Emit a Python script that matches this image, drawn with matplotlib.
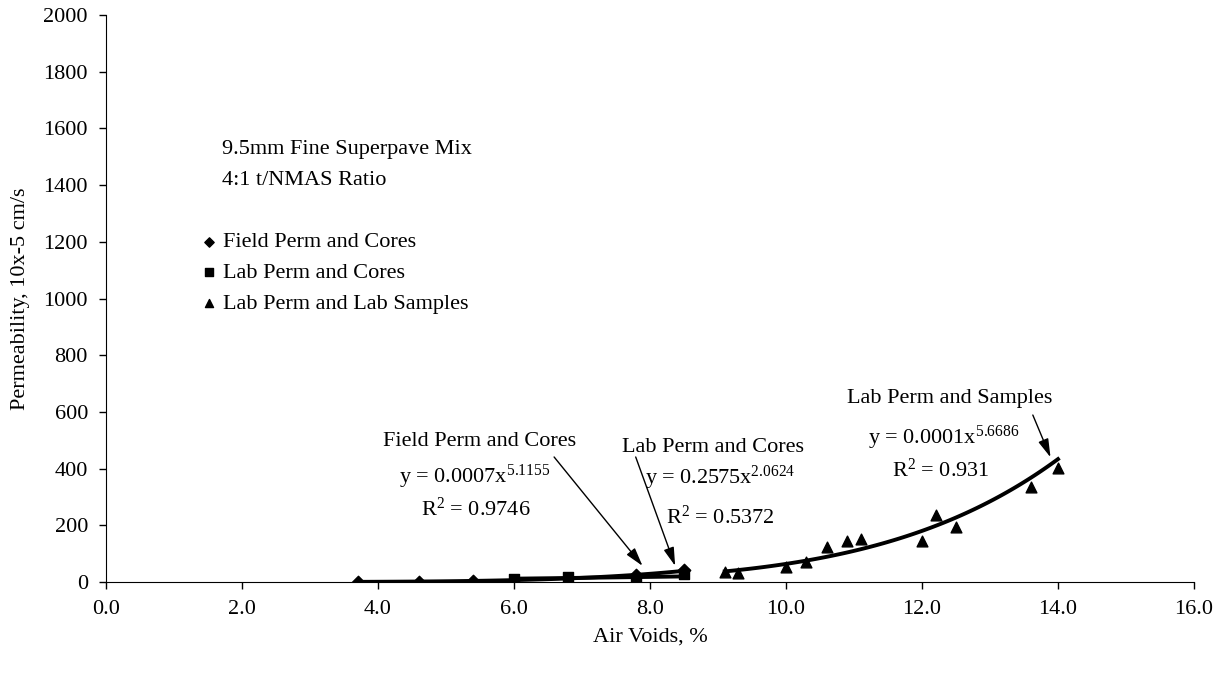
import numpy as np
import matplotlib
matplotlib.use("Agg")
import matplotlib.pyplot as plt

plt.rcParams['font.family'] = ['Liberation Serif', 'DejaVu Serif']
plt.rcParams['mathtext.fontset'] = 'custom'
plt.rcParams['mathtext.rm'] = 'Liberation Serif'
plt.rcParams['mathtext.it'] = 'Liberation Serif:italic'

# field permeameter on cores
field_x = [3.7, 4.6, 5.4, 7.8, 8.5]
field_y = [0.6, 1.6, 4.0, 24, 42]
# lab permeameter on cores
labc_x = [6.0, 6.8, 7.8, 8.5]
labc_y = [12, 17, 10, 28]
# lab permeameter on lab samples
labs_x = [9.1, 9.3, 10.0, 10.3, 10.6, 10.9, 11.1, 12.0, 12.2, 12.5, 13.6, 14.0]
labs_y = [36, 33, 52, 72, 122, 143, 153, 143, 237, 195, 336, 401]

xticks = np.arange(0, 16.1, 2.0)
yticks = np.arange(0, 2001, 200)


def power_fit(x, y):
    # excel style power trendline: linear fit in log-log space
    b, ln_a = np.polyfit(np.log(x), np.log(y), 1)
    xs = np.linspace(min(x), max(x), 100)
    return xs, np.exp(ln_a) * xs ** b


fig = plt.figure(figsize=(12.28, 6.73), dpi=100)
ax = fig.add_axes([0.0863, 0.1352, 0.886, 0.8425])

fs = 16
h1 = ax.scatter(field_x, field_y, marker='D', s=40, color='black', zorder=3,
                label='Field Perm and Cores')
h2 = ax.scatter(labc_x, labc_y, marker='s', s=55, color='black', zorder=3,
                label='Lab Perm and Cores')
h3 = ax.scatter(labs_x, labs_y, marker='^', s=60, color='black', zorder=3,
                label='Lab Perm and Lab Samples')

for xx, yy in [(field_x, field_y), (labc_x, labc_y), (labs_x, labs_y)]:
    fx, fy = power_fit(xx, yy)
    ax.plot(fx, fy, color='black', lw=2.8, zorder=2)

ax.set_xlim(0, 16)
ax.set_ylim(0, 2000)
ax.set_xticks(xticks)
ax.set_xticklabels(['%.1f' % t for t in xticks])
ax.set_yticks(yticks)
ax.spines['top'].set_visible(False)
ax.spines['right'].set_visible(False)
ax.tick_params(direction='out', length=5, width=1, labelsize=fs, pad=8)
ax.set_xlabel('Air Voids, %', fontsize=fs, labelpad=6)
ax.set_ylabel('Permeability, 10x-5 cm/s', fontsize=fs, labelpad=10)

ax.text(1.71, 1524, '9.5mm Fine Superpave Mix', fontsize=fs, va='center')
ax.text(1.71, 1418, '4:1 t/NMAS Ratio', fontsize=fs, va='center')

ax.legend(handles=[h1, h2, h3], loc='upper left', bbox_to_anchor=(0.152, 0.672),
          bbox_transform=fig.transFigure, frameon=False, fontsize=fs,
          handletextpad=0.15, labelspacing=0.45, borderpad=0, handlelength=1.0,
          scatterpoints=1, markerscale=0.75)

arrow = dict(arrowstyle='-|>,head_length=0.7,head_width=0.2', color='black',
             lw=1, mutation_scale=16, shrinkA=0, shrinkB=0)
ax.annotate('', xy=(7.89, 57), xytext=(6.59, 441), arrowprops=arrow)
ax.annotate('', xy=(8.37, 57), xytext=(7.79, 441), arrowprops=arrow)
ax.annotate('', xy=(13.89, 440), xytext=(13.63, 589), arrowprops=arrow)

ax.text(5.50, 497, 'Field Perm and Cores', fontsize=fs, ha='center', va='center')
ax.text(5.43, 370, r'y = 0.0007x$^{5.1155}$', fontsize=fs, ha='center', va='center')
ax.text(5.44, 258, r'R$^{2}$ = 0.9746', fontsize=fs, ha='center', va='center')

ax.text(8.93, 476, 'Lab Perm and Cores', fontsize=fs, ha='center', va='center')
ax.text(9.03, 366, r'y = 0.2575x$^{2.0624}$', fontsize=fs, ha='center', va='center')
ax.text(9.03, 230, r'R$^{2}$ = 0.5372', fontsize=fs, ha='center', va='center')

ax.text(12.41, 649, 'Lab Perm and Samples', fontsize=fs, ha='center', va='center')
ax.text(12.32, 507, r'y = 0.0001x$^{5.6686}$', fontsize=fs, ha='center', va='center')
ax.text(12.28, 396, r'R$^{2}$ = 0.931', fontsize=fs, ha='center', va='center')

fig.savefig('out.png', dpi=100)
